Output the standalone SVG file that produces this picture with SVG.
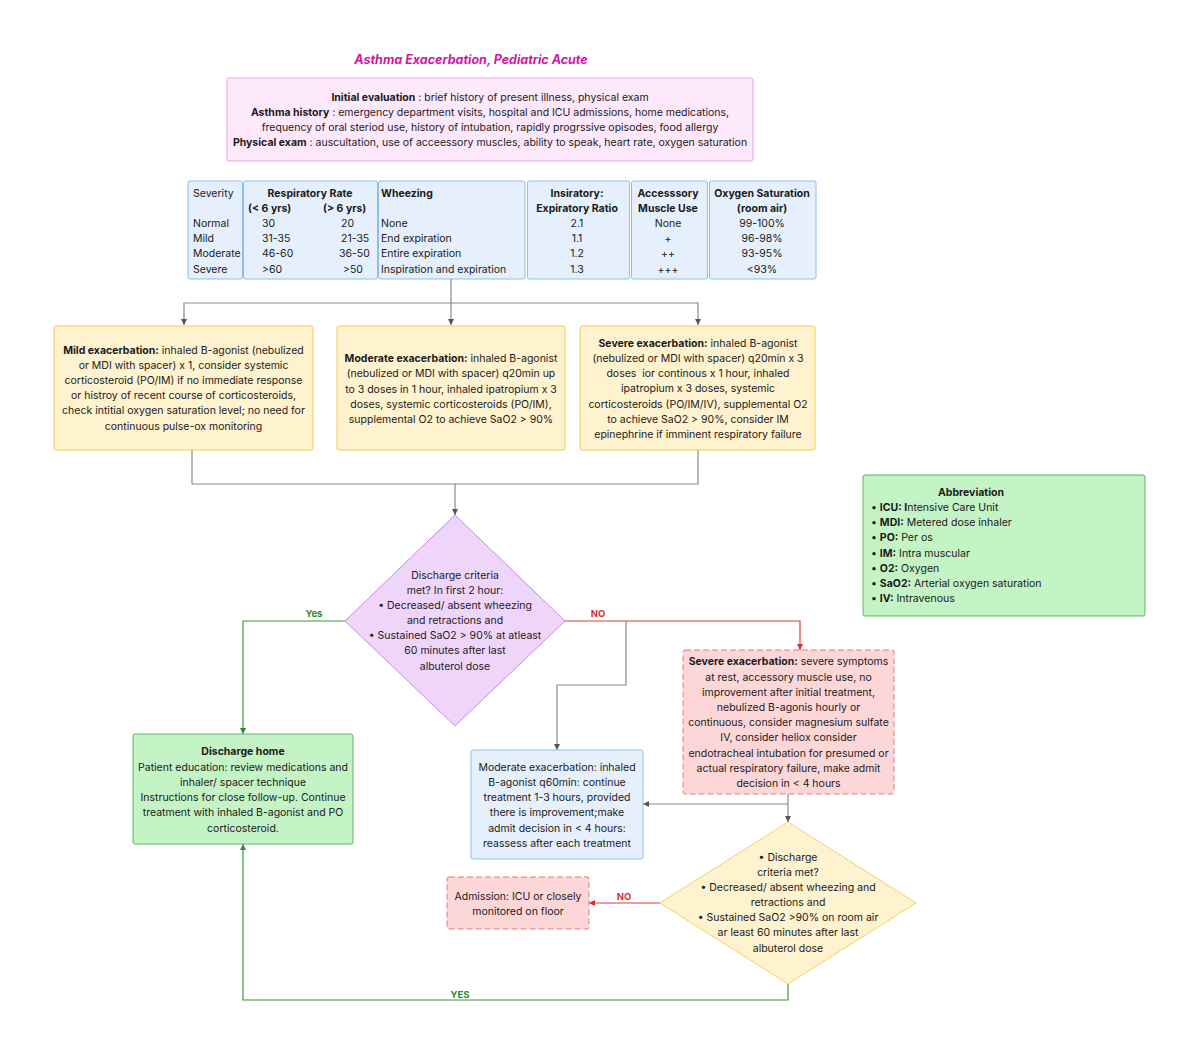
<svg xmlns="http://www.w3.org/2000/svg" width="1200" height="1055" viewBox="0 0 1200 1055">
<defs>
<style>
text{font-family:Inter,"Noto Sans","Liberation Sans",sans-serif;font-size:10.5px;fill:#1a1a1a}
.c{text-anchor:middle}
.b{font-weight:bold}
.title{font-size:12.5px;font-weight:bold;font-style:italic;fill:#cc1aa6}
.pink{fill:#fde9fb;stroke:#eaa3e3;stroke-width:1}
.blue{fill:#e5f0fc;stroke:#8fbfe9;stroke-width:1}
.yel{fill:#fff2cf;stroke:#f2cc55;stroke-width:1}
.pur{fill:#f0d5fb;stroke:#c98ae6;stroke-width:1}
.red{fill:#fdd7d7;stroke:#e57b7b;stroke-width:1;stroke-dasharray:6 3}
.grn{fill:#c4f3c6;stroke:#5cb85c;stroke-width:1}
.ydia{fill:#fff2cf;stroke:#f2d36a;stroke-width:1}
.lg{fill:none;stroke:#8a8a8a;stroke-width:1.2}
.lgr{fill:none;stroke:#3a9a3a;stroke-width:1.2}
.lr{fill:none;stroke:#e03b3b;stroke-width:1.2}
.ly{fill:#2e8b2e;font-weight:bold;font-size:9.5px}
.ln{fill:#d32f2f;font-weight:bold;font-size:9.5px}
</style>
<marker id="ag" viewBox="0 0 10 10" refX="10" refY="5" markerWidth="6" markerHeight="6" markerUnits="userSpaceOnUse" orient="auto"><path d="M0 0L10 5L0 10z" fill="#555"/></marker>
<marker id="agr" viewBox="0 0 10 10" refX="10" refY="5" markerWidth="6" markerHeight="6" markerUnits="userSpaceOnUse" orient="auto"><path d="M0 0L10 5L0 10z" fill="#2e8b2e"/></marker>
<marker id="ar" viewBox="0 0 10 10" refX="10" refY="5" markerWidth="6" markerHeight="6" markerUnits="userSpaceOnUse" orient="auto"><path d="M0 0L10 5L0 10z" fill="#d32f2f"/></marker>
</defs>
<rect width="1200" height="1055" fill="#ffffff"/>

<text class="title c" x="471" y="64">Asthma Exacerbation, Pediatric Acute</text>

<g id="connectors">
<path class="lg" d="M451 279V303H184V325" marker-end="url(#ag)"/>
<path class="lg" d="M451 303V325" marker-end="url(#ag)"/>
<path class="lg" d="M451 303H698V325" marker-end="url(#ag)"/>
<path class="lg" d="M192 450V484H455V515" marker-end="url(#ag)"/>
<path class="lg" d="M698 450V484H455"/>
<path class="lgr" d="M345 621H243V734" marker-end="url(#agr)"/>
<path class="lr" d="M565 621H800V650" marker-end="url(#ar)"/>
<path class="lg" d="M626 621V685H557V750" marker-end="url(#ag)"/>
<path class="lg" d="M788 794V822" marker-end="url(#ag)"/>
<path class="lg" d="M788 804H643" marker-end="url(#ag)"/>
<path class="lr" d="M660 903H589" marker-end="url(#ar)"/>
<path class="lgr" d="M788 984V1000H243V844" marker-end="url(#agr)"/>
<text class="ly c" x="314" y="617">Yes</text>
<text class="ln c" x="598" y="617">NO</text>
<text class="ln c" x="624" y="900">NO</text>
<text class="ly c" x="460" y="998">YES</text>
</g>

<g id="initial-evaluation">
<rect class="pink" x="227" y="78" width="526" height="83" rx="2"/>
<text class="c" x="490" y="101"><tspan class="b">Initial evaluation</tspan> : brief history of present illness, physical exam</text>
<text class="c" x="490" y="116"><tspan class="b">Asthma history</tspan> : emergency department visits, hospital and ICU admissions, home medications,</text>
<text class="c" x="490" y="131">frequency of oral steriod use, history of intubation, rapidly progrssive opisodes, food allergy</text>
<text class="c" x="490" y="146"><tspan class="b">Physical exam</tspan> : auscultation, use of acceessory muscles, ability to speak, heart rate, oxygen saturation</text>
</g>

<g id="severity-table">
<rect class="blue" x="188" y="181" width="54.5" height="98" rx="2"/>
<rect class="blue" x="243.5" y="181" width="134" height="98" rx="2"/>
<rect class="blue" x="378.5" y="181" width="146.5" height="98" rx="2"/>
<rect class="blue" x="527.5" y="181" width="102" height="98" rx="2"/>
<rect class="blue" x="631.5" y="181" width="76" height="98" rx="2"/>
<rect class="blue" x="709.5" y="181" width="106.5" height="98" rx="2"/>
<text x="193" y="197">Severity</text>
<text x="193" y="227">Normal</text>
<text x="193" y="242">Mild</text>
<text x="193" y="257">Moderate</text>
<text x="193" y="273">Severe</text>
<text class="c b" x="310" y="197">Respiratory Rate</text>
<text class="b" x="248" y="212">(&lt; 6 yrs)</text>
<text class="b" x="323" y="212">(&gt; 6 yrs)</text>
<text x="262" y="227">30</text>
<text x="262" y="242">31-35</text>
<text x="262" y="257">46-60</text>
<text x="262" y="273">&gt;60</text>
<text x="341" y="227">20</text>
<text x="341" y="242">21-35</text>
<text x="339" y="257">36-50</text>
<text x="343" y="273">&gt;50</text>
<text class="b" x="381" y="197">Wheezing</text>
<text x="381" y="227">None</text>
<text x="381" y="242">End expiration</text>
<text x="381" y="257">Entire expiration</text>
<text x="381" y="273">Inspiration and expiration</text>
<text class="c b" x="577" y="197">Insiratory:</text>
<text class="c b" x="577" y="212">Expiratory Ratio</text>
<text class="c" x="577" y="227">2.1</text>
<text class="c" x="577" y="242">1.1</text>
<text class="c" x="577" y="257">1.2</text>
<text class="c" x="577" y="273">1.3</text>
<text class="c b" x="668" y="197">Accesssory</text>
<text class="c b" x="668" y="212">Muscle Use</text>
<text class="c" x="668" y="227">None</text>
<text class="c" x="668" y="242">+</text>
<text class="c" x="668" y="257">++</text>
<text class="c" x="668" y="273">+++</text>
<text class="c b" x="762" y="197">Oxygen Saturation</text>
<text class="c b" x="762" y="212">(room air)</text>
<text class="c" x="762" y="227">99-100%</text>
<text class="c" x="762" y="242">96-98%</text>
<text class="c" x="762" y="257">93-95%</text>
<text class="c" x="762" y="273">&lt;93%</text>
</g>

<g id="mild-exacerbation">
<rect class="yel" x="54" y="326" width="259" height="124" rx="2"/>
<text class="c" x="183.5" y="354"><tspan class="b">Mild exacerbation:</tspan> inhaled B-agonist (nebulized</text>
<text class="c" x="183.5" y="369">or MDI with spacer) x 1, consider systemic</text>
<text class="c" x="183.5" y="384">corticosteroid (PO/IM) if no immediate response</text>
<text class="c" x="183.5" y="399">or histroy of recent course of corticosteroids,</text>
<text class="c" x="183.5" y="414">check intitial oxygen saturation level; no need for</text>
<text class="c" x="183.5" y="430">continuous pulse-ox monitoring</text>
</g>

<g id="moderate-exacerbation">
<rect class="yel" x="337" y="326" width="228" height="124" rx="2"/>
<text class="c" x="451" y="362"><tspan class="b">Moderate exacerbation:</tspan> inhaled B-agonist</text>
<text class="c" x="451" y="377">(nebulized or MDI with spacer) q20min up</text>
<text class="c" x="451" y="393">to 3 doses in 1 hour, inhaled ipatropium x 3</text>
<text class="c" x="451" y="408">doses, systemic corticosteroids (PO/IM),</text>
<text class="c" x="451" y="423">supplemental O2 to achieve SaO2 &gt; 90%</text>
</g>

<g id="severe-exacerbation">
<rect class="yel" x="580" y="326" width="235" height="124" rx="2"/>
<text class="c" x="698" y="347"><tspan class="b">Severe exacerbation:</tspan> inhaled B-agonist</text>
<text class="c" x="698" y="362">(nebulized or MDI with spacer) q20min x 3</text>
<text class="c" x="698" y="377">doses&#160; ior continous x 1 hour, inhaled</text>
<text class="c" x="698" y="392">ipatropium x 3 doses, systemic</text>
<text class="c" x="698" y="408">corticosteroids (PO/IM/IV), supplemental O2</text>
<text class="c" x="698" y="423">to achieve SaO2 &gt; 90%, consider IM</text>
<text class="c" x="698" y="438">epinephrine if imminent respiratory failure</text>
</g>

<g id="abbreviation">
<rect class="grn" x="863" y="475" width="282" height="141" rx="2"/>
<text class="c b" x="971" y="496">Abbreviation</text>
<text x="871" y="511">• <tspan class="b">ICU: I</tspan>ntensive Care Unit</text>
<text x="871" y="526">• <tspan class="b">MDI:</tspan> Metered dose inhaler</text>
<text x="871" y="541">• <tspan class="b">PO:</tspan> Per os</text>
<text x="871" y="557">• <tspan class="b">IM:</tspan> Intra muscular</text>
<text x="871" y="572">• <tspan class="b">O2:</tspan> Oxygen</text>
<text x="871" y="587">• <tspan class="b">SaO2:</tspan> Arterial oxygen saturation</text>
<text x="871" y="602">• <tspan class="b">IV:</tspan> Intravenous</text>
</g>

<g id="discharge-criteria-1">
<path class="pur" d="M455 515L565 621L455 726L345 621Z"/>
<text class="c" x="455" y="579">Discharge criteria</text>
<text class="c" x="455" y="594">met? In first 2 hour:</text>
<text class="c" x="455" y="609">• Decreased/ absent wheezing</text>
<text class="c" x="455" y="624">and retractions and</text>
<text class="c" x="455" y="639">• Sustained SaO2 &gt; 90% at atleast</text>
<text class="c" x="455" y="654">60 minutes after last</text>
<text class="c" x="455" y="670">albuterol dose</text>
</g>

<g id="severe-exacerbation-2">
<rect class="red" x="683" y="650" width="211" height="144" rx="2"/>
<text class="c" x="788.5" y="665"><tspan class="b">Severe exacerbation:</tspan> severe symptoms</text>
<text class="c" x="788.5" y="681">at rest, accessory muscle use, no</text>
<text class="c" x="788.5" y="696">improvement after initial treatment,</text>
<text class="c" x="788.5" y="711">nebulized B-agonis hourly or</text>
<text class="c" x="788.5" y="726">continuous, consider magnesium sulfate</text>
<text class="c" x="788.5" y="741">IV, consider heliox consider</text>
<text class="c" x="788.5" y="757">endotracheal intubation for presumed or</text>
<text class="c" x="788.5" y="772">actual respiratory failure, make admit</text>
<text class="c" x="788.5" y="787">decision in &lt; 4 hours</text>
</g>

<g id="moderate-exacerbation-2">
<rect class="blue" x="471" y="750" width="172" height="109" rx="2"/>
<text class="c" x="557" y="771">Moderate exacerbation: inhaled</text>
<text class="c" x="557" y="786">B-agonist q60min: continue</text>
<text class="c" x="557" y="801">treatment 1-3 hours, provided</text>
<text class="c" x="557" y="816">there is improvement;make</text>
<text class="c" x="557" y="832">admit decision in &lt; 4 hours:</text>
<text class="c" x="557" y="847">reassess after each treatment</text>
</g>

<g id="discharge-home">
<rect class="grn" x="133" y="734" width="220" height="110" rx="2"/>
<text class="c b" x="243" y="755">Discharge home</text>
<text class="c" x="243" y="771">Patient education: review medications and</text>
<text class="c" x="243" y="786">inhaler/ spacer technique</text>
<text class="c" x="243" y="801">Instructions for close follow-up. Continue</text>
<text class="c" x="243" y="816">treatment with inhaled B-agonist and PO</text>
<text class="c" x="243" y="832">corticosteroid.</text>
</g>

<g id="discharge-criteria-2">
<path class="ydia" d="M788 822L916 903L788 984L660 903Z"/>
<text class="c" x="788" y="861">• Discharge</text>
<text class="c" x="788" y="876">criteria met?</text>
<text class="c" x="788" y="891">• Decreased/ absent wheezing and</text>
<text class="c" x="788" y="906">retractions and</text>
<text class="c" x="788" y="921">• Sustained SaO2 &gt;90% on room air</text>
<text class="c" x="788" y="936">ar least 60 minutes after last</text>
<text class="c" x="788" y="952">albuterol dose</text>
</g>

<g id="admission">
<rect class="red" x="447" y="877" width="142" height="52" rx="2"/>
<text class="c" x="518" y="900">Admission: ICU or closely</text>
<text class="c" x="518" y="915">monitored on floor</text>
</g>
</svg>
